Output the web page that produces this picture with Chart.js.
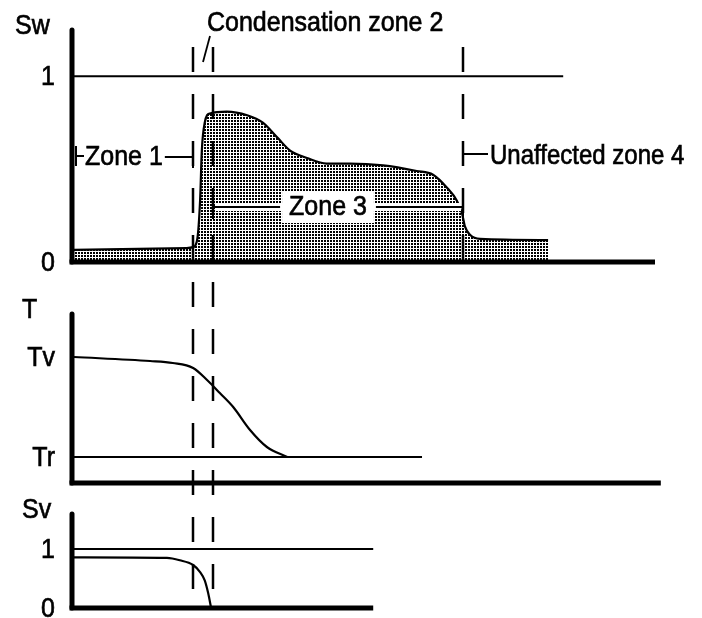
<!DOCTYPE html>
<html>
<head>
<meta charset="utf-8">
<title>Condensation zones</title>
<script src="https://cdn.jsdelivr.net/npm/chart.js@4.4.1/dist/chart.umd.min.js"></script>
<style>
  body { margin: 0; background: #fff; }
  #wrap { position: relative; width: 702px; height: 618px; overflow: hidden; }
  canvas { position: absolute; left: 0; }
</style>
</head>
<body>
<div id="wrap">
  <canvas id="swChart" width="702" height="278" style="top:0"></canvas>
  <canvas id="tChart" width="702" height="212" style="top:278px"></canvas>
  <canvas id="svChart" width="702" height="128" style="top:490px"></canvas>
</div>
<script>
// distance along the core, 0..100
const swX = [0, 19.4, 20.5, 21.2, 21.7, 22.0, 22.5, 23.4, 26.3, 29.8, 32.5, 35.0, 37.2, 40.1, 43.5, 47.5, 53.2, 59.0, 61.8, 64.2, 65.9, 66.8, 67.3, 68.2, 69.9, 81.6];
const swY = [0.065, 0.075, 0.08, 0.12, 0.33, 0.60, 0.75, 0.80, 0.81, 0.79, 0.75, 0.67, 0.60, 0.56, 0.53, 0.53, 0.52, 0.49, 0.47, 0.40, 0.33, 0.26, 0.19, 0.145, 0.124, 0.118];
const swOneX = [0, 84.2];

const tX = [0, 13.1, 17.0, 20.5, 22.9, 25.1, 27.4, 30.3, 33.2, 36.7];
const tY = [1.0, 0.96, 0.94, 0.89, 0.77, 0.64, 0.50, 0.27, 0.10, 0.0];
const trLineX = [0, 59.9];

const svX = [0, 16.0, 18.2, 20.5, 21.7, 22.5, 23.1, 23.6];
const svY = [0.86, 0.85, 0.81, 0.73, 0.61, 0.47, 0.25, 0.0];
const svOneX = [0, 51.5];

// zone boundaries (dashed lines): end of zone 1, end of zone 2, end of zone 3
const zoneEdges = [20.5, 23.9, 66.95];
const axisEnds = [100, 101, 51.5];

const swTickValues = [0, 1], swTickLabels = ["0", "1"];
const tTickValues = [0, 1], tTickLabels = ["Tr", "Tv"];
const svTickValues = [0, 1], svTickLabels = ["0", "1"];

const ink = "#000";
const font = (s) => s + 'px "Liberation Sans", Arial, Helvetica, sans-serif';

function pts(xs, ys) {
  return xs.map((x, i) => ({ x: x, y: ys[i] }));
}

function stipple() {
  const c = document.createElement("canvas");
  c.width = 3; c.height = 3;
  const g = c.getContext("2d");
  g.fillStyle = "#000";
  g.fillRect(0, 0, 2, 2);
  return g.createPattern(c, "repeat");
}

function line(ctx, x1, y1, x2, y2) {
  ctx.beginPath();
  ctx.moveTo(x1, y1);
  ctx.lineTo(x2, y2);
  ctx.stroke();
}

// slightly taller, heavier text, like the old typeset labels
function txt(ctx, s, x, y, size, align) {
  ctx.save();
  ctx.font = font(size);
  ctx.textAlign = align || "left";
  ctx.fillStyle = ink;
  ctx.strokeStyle = ink;
  ctx.lineWidth = 0.6;
  ctx.translate(x, y);
  ctx.scale(1, 1.12);
  ctx.fillText(s, 0, 0);
  ctx.strokeText(s, 0, 0);
  ctx.restore();
}

function drawAxes(chart, xEnd) {
  const { ctx, chartArea, scales } = chart;
  const x0 = scales.x.getPixelForValue(0) - 2;
  ctx.save();
  ctx.strokeStyle = ink;
  ctx.lineWidth = 5;
  ctx.lineCap = "round";
  line(ctx, x0, chartArea.top + 2, x0, chartArea.bottom);
  ctx.lineCap = "butt";
  line(ctx, x0 - 2.5, chartArea.bottom, scales.x.getPixelForValue(xEnd), chartArea.bottom);
  ctx.restore();
}

// dashes line up across the three canvases (period 47px on the page)
function drawDashes(chart, xs, yFrom, yTo) {
  const { ctx, scales } = chart;
  const top = chart.canvas.offsetTop;
  ctx.save();
  ctx.strokeStyle = ink;
  ctx.lineWidth = 2.5;
  ctx.setLineDash([25, 22]);
  ctx.lineDashOffset = (((top + yFrom - 47) % 47) + 47) % 47;
  xs.forEach((v) => {
    const px = Math.round(scales.x.getPixelForValue(v));
    line(ctx, px, yFrom, px, yTo);
  });
  ctx.restore();
}

function drawTicks(chart, title, titleX, values, labels) {
  const { ctx, chartArea, scales } = chart;
  txt(ctx, title, titleX, chartArea.top + 6, 25);
  values.forEach((v, i) => {
    txt(ctx, labels[i], 55, scales.y.getPixelForValue(v) + 9, 25, "right");
  });
}

function drawZones(chart) {
  const { ctx, scales } = chart;
  const xa = scales.x.getPixelForValue(0);
  const xb = Math.round(scales.x.getPixelForValue(zoneEdges[0]));
  const xc = Math.round(scales.x.getPixelForValue(zoneEdges[1]));
  const xd = Math.round(scales.x.getPixelForValue(zoneEdges[2]));
  ctx.save();
  ctx.strokeStyle = ink;
  ctx.fillStyle = ink;
  ctx.lineWidth = 2;
  ctx.font = font(25);

  // Zone 1
  line(ctx, xa + 2, 146, xa + 2, 166);
  line(ctx, xa + 2, 156, xa + 10, 156);
  const z1 = "Zone 1";
  txt(ctx, z1, xa + 11, 165, 25);
  line(ctx, xa + 13 + ctx.measureText(z1).width, 157, xb, 157);
  line(ctx, xb, 143, xb, 168);

  // Condensation zone 2
  txt(ctx, "Condensation zone 2", xb + 14, 31, 25);
  ctx.lineWidth = 1.8;
  line(ctx, xb + 17, 36, xb + 10, 62);
  ctx.lineWidth = 2;

  // Zone 3, cleared box behind the label
  const z3 = "Zone 3";
  const w3 = ctx.measureText(z3).width;
  const mid = (xc + xd) / 2 - 10;
  ctx.fillStyle = "#fff";
  ctx.fillRect(mid - w3 / 2 - 7, 192, w3 + 14, 31);
  ctx.fillRect(xc + 2, 203, xd - xc - 4, 8);
  txt(ctx, z3, mid - w3 / 2, 215, 25);
  line(ctx, xc, 196, xc, 219);
  line(ctx, xc, 207, mid - w3 / 2 - 9, 207);
  line(ctx, mid + w3 / 2 + 9, 207, xd, 207);
  line(ctx, xd, 193, xd, 219);

  // Unaffected zone 4
  line(ctx, xd, 143, xd, 166);
  line(ctx, xd, 154, xd + 25, 154);
  txt(ctx, "Unaffected zone 4", xd + 27, 164, 24);
  ctx.restore();
}

function baseOptions(yMin, yMax, pad) {
  return {
    responsive: false,
    animation: false,
    events: [],
    layout: { padding: pad },
    plugins: { legend: { display: false }, tooltip: { enabled: false } },
    elements: { point: { radius: 0 } },
    scales: {
      x: { type: "linear", min: 0, max: 100, display: false },
      y: { type: "linear", min: yMin, max: yMax, display: false },
    },
  };
}

// Sw panel
new Chart(document.getElementById("swChart"), {
  type: "line",
  data: {
    datasets: [
      {
        data: pts(swX, swY),
        borderColor: ink,
        borderWidth: 2.2,
        backgroundColor: stipple(),
        fill: "origin",
        cubicInterpolationMode: "monotone",
      },
      {
        data: pts(swOneX, [1, 1]),
        borderColor: ink,
        borderWidth: 2,
        fill: false,
      },
    ],
  },
  options: baseOptions(0, 1.26, { top: 28, bottom: 16, left: 74, right: 47 }),
  plugins: [{
    id: "swDecor",
    afterDatasetsDraw(chart) {
      drawZones(chart);
      drawDashes(chart, zoneEdges.slice(0, 2), 40, chart.height);
      drawDashes(chart, zoneEdges.slice(2), 42, chart.chartArea.bottom);
      drawAxes(chart, axisEnds[0]);
      drawTicks(chart, "Sw", 15, swTickValues, swTickLabels);
    },
  }],
});

// T panel
new Chart(document.getElementById("tChart"), {
  type: "line",
  data: {
    datasets: [
      {
        data: pts(tX, tY),
        borderColor: ink,
        borderWidth: 2.2,
        fill: false,
        cubicInterpolationMode: "monotone",
      },
      {
        data: pts(trLineX, [0, 0]),
        borderColor: ink,
        borderWidth: 2,
        fill: false,
      },
    ],
  },
  options: baseOptions(-0.26, 1.45, { top: 34, bottom: 7, left: 74, right: 47 }),
  plugins: [{
    id: "tDecor",
    afterDatasetsDraw(chart) {
      drawDashes(chart, zoneEdges.slice(0, 2), 0, chart.height);
      drawAxes(chart, axisEnds[1]);
      drawTicks(chart, "T", 22, tTickValues, tTickLabels);
    },
  }],
});

// Sv panel
new Chart(document.getElementById("svChart"), {
  type: "line",
  data: {
    datasets: [
      {
        data: pts(svX, svY),
        borderColor: ink,
        borderWidth: 2.2,
        fill: false,
        cubicInterpolationMode: "monotone",
      },
      {
        data: pts(svOneX, [1, 1]),
        borderColor: ink,
        borderWidth: 2,
        fill: false,
      },
    ],
  },
  options: baseOptions(0, 1.63, { top: 22, bottom: 10, left: 74, right: 47 }),
  plugins: [{
    id: "svDecor",
    afterDatasetsDraw(chart) {
      drawDashes(chart, zoneEdges.slice(0, 2), 0, chart.chartArea.bottom);
      drawAxes(chart, axisEnds[2]);
      drawTicks(chart, "Sv", 22, svTickValues, svTickLabels);
    },
  }],
});
</script>
</body>
</html>
